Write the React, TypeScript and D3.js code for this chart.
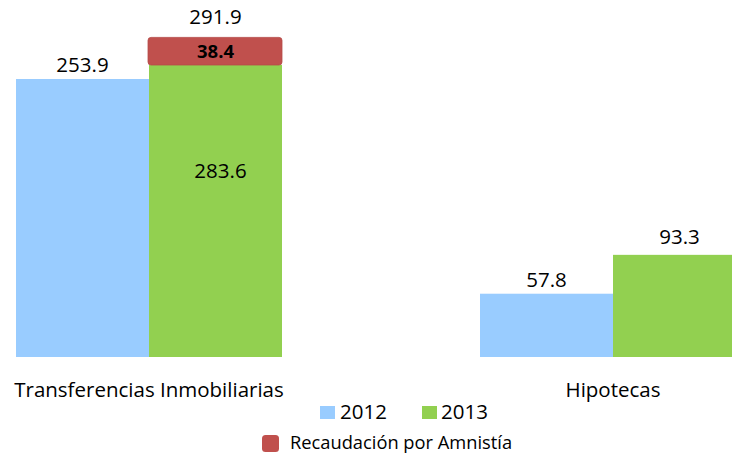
import React from "react";
import * as d3 from "d3";

const categories = ["Transferencias Inmobiliarias", "Hipotecas"];
const years = ["2012", "2013"];
const values2012 = [253.9, 57.8];
const values2013 = [266.7, 93.3];
const amnesty = [25.2, 0];
const labels2012 = ["253.9", "57.8"];
const labels2013 = ["283.6", "93.3"];
const amnestyLabels = ["38.4", ""];
const totalLabels = ["291.9", ""];
const legendTitle = "Recaudación por Amnistía";

const W = 732;
const H = 454;
const FONT = "'Open Sans', sans-serif";
const BLUE = "#99CCFF";
const GREEN = "#92D050";
const RED = "#C0504D";

export default function App() {
  const baseline = 357;
  const y = d3.scaleLinear().domain([0, 300]).range([baseline, baseline - 300 * 1.0949]);
  const x = d3.scaleBand<string>().domain(categories).range([-83, 845]).paddingInner(0).paddingOuter(0);
  const xs = d3.scaleBand<string>().domain(years).range([99, 365]).padding(0);
  const bw = xs.bandwidth();

  return (
    <svg width={W} height={H} style={{ position: "absolute", left: 0, top: 0 }} fontFamily={FONT}>
      <rect width={W} height={H} fill="#fff" />
      {categories.map((c, i) => {
        const x0 = x(c)!;
        const bx = x0 + xs("2012")!;
        const gx = x0 + xs("2013")!;
        const v1 = values2012[i];
        const v2 = values2013[i];
        const a = amnesty[i];
        const cx = x0 + x.bandwidth() / 2;
        return (
          <g key={c}>
            <rect x={bx} y={y(v1)} width={bw} height={baseline - y(v1)} fill={BLUE} />
            <rect x={gx} y={y(v2)} width={bw} height={baseline - y(v2)} fill={GREEN} />
            <text x={bx + bw / 2} y={y(v1) - 7} textAnchor="middle" fontSize={20.5} fill="#000">
              {labels2012[i]}
            </text>
            {a > 0 ? (
              <g>
                <rect
                  x={gx - 1}
                  y={y(v2 + a)}
                  width={bw + 1}
                  height={y(v2) - y(v2 + a)}
                  rx={3}
                  fill={RED}
                  stroke="#b54a47"
                  strokeWidth={0.8}
                />
                <text
                  x={gx + bw / 2}
                  y={(y(v2) + y(v2 + a)) / 2 + 6.5}
                  textAnchor="middle"
                  fontSize={18.5}
                  fontWeight="bold"
                  fill="#000"
                >
                  {amnestyLabels[i]}
                </text>
                <text x={gx + bw / 2} y={y(v2 + a) - 13} textAnchor="middle" fontSize={20.5} fill="#000">
                  {totalLabels[i]}
                </text>
                <text x={gx + bw / 2 + 5} y={178} textAnchor="middle" fontSize={20.5} fill="#000">
                  {labels2013[i]}
                </text>
              </g>
            ) : (
              <text x={gx + bw / 2} y={y(v2) - 11} textAnchor="middle" fontSize={20.5} fill="#000">
                {labels2013[i]}
              </text>
            )}
            <text x={cx} y={397} textAnchor="middle" fontSize={20.5} fill="#000">
              {c}
            </text>
          </g>
        );
      })}
      <g>
        <rect x={320} y={406} width={15} height={13} fill={BLUE} />
        <text x={340} y={419} fontSize={20.5} fill="#000">{years[0]}</text>
        <rect x={422} y={406} width={15} height={13} fill={GREEN} />
        <text x={441} y={419} fontSize={20.5} fill="#000">{years[1]}</text>
        <rect x={262} y={435} width={17} height={17} rx={3.5} fill={RED} />
        <text x={290} y={449} fontSize={18.3} fill="#000">{legendTitle}</text>
      </g>
    </svg>
  );
}
